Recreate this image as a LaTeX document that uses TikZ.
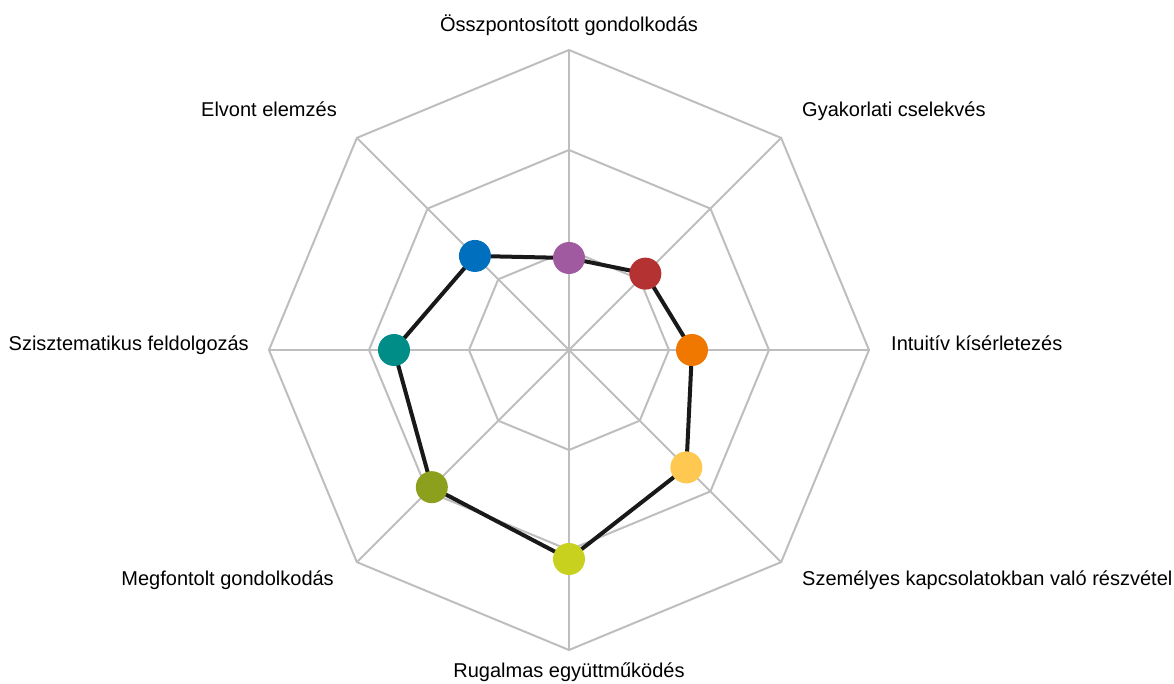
\documentclass[tikz,border=0pt]{standalone}
\usepackage{fontspec}
\setmainfont{Liberation Sans}
\definecolor{gridgray}{HTML}{BEBEBE}
\definecolor{dotpurple}{HTML}{A05AA0}
\definecolor{dotred}{HTML}{B43232}
\definecolor{dotorange}{HTML}{F07800}
\definecolor{dotyellow}{HTML}{FFC850}
\definecolor{dotlime}{HTML}{C8D21E}
\definecolor{dotolive}{HTML}{8CA01E}
\definecolor{dotteal}{HTML}{008C87}
\definecolor{dotblue}{HTML}{0070BE}
\tikzset{
  gridline/.style={line width=2bp, gridgray},
  dot/.style={circle, fill=#1, minimum size=32bp, inner sep=0pt},
  axislabel/.style={inner sep=0pt, font=\fontsize{20bp}{24bp}\selectfont}
}
\begin{document}
\begin{tikzpicture}[x=100bp, y=100bp]
\useasboundingbox (-5.69,-3.34) rectangle (6.05,3.50);

% grid
\foreach \r in {1,2,3}
  \draw[gridline] (90:\r) -- (45:\r) -- (0:\r) -- (-45:\r) -- (-90:\r)
    -- (-135:\r) -- (180:\r) -- (135:\r) -- cycle;
\foreach \a in {0,45,...,315}
  \draw[gridline] (0,0) -- (\a:3);

% axis labels
\node[axislabel, anchor=base] (lfocus) at (0,3.18) {Összpontosított gondolkodás};
\node[axislabel, anchor=base west] (lpractice) at (2.33,2.33) {Gyakorlati cselekvés};
\node[axislabel, anchor=base west] (lintuit) at (3.22,0) {Intuitív kísérletezés};
\node[axislabel, anchor=base west] (lpersonal) at (2.33,-2.35) {Személyes kapcsolatokban való részvétel};
\node[axislabel, anchor=base] (lflex) at (0,-3.27) {Rugalmas együttműködés};
\node[axislabel, anchor=base east] (lcareful) at (-2.35,-2.35) {Megfontolt gondolkodás};
\node[axislabel, anchor=base east] (lsystem) at (-3.2,0) {Szisztematikus feldolgozás};
\node[axislabel, anchor=base east] (labstract) at (-2.32,2.33) {Elvont elemzés};

% data points
\coordinate (cfocus) at (90:0.92);
\coordinate (cpractice) at (45:1.08);
\coordinate (cintuit) at (0:1.23);
\coordinate (cpersonal) at (-45:1.66);
\coordinate (cflex) at (-90:2.09);
\coordinate (ccareful) at (-135:1.94);
\coordinate (csystem) at (180:1.75);
\coordinate (cabstract) at (135:1.33);

\draw[line width=4bp, black!90, line join=round] (cfocus) -- (cpractice) -- (cintuit) -- (cpersonal)
  -- (cflex) -- (ccareful) -- (csystem) -- (cabstract) -- cycle;

\node[dot=dotpurple] (focus) at (cfocus) {};
\node[dot=dotred] (practice) at (cpractice) {};
\node[dot=dotorange] (intuit) at (cintuit) {};
\node[dot=dotyellow] (personal) at (cpersonal) {};
\node[dot=dotlime] (flex) at (cflex) {};
\node[dot=dotolive] (careful) at (ccareful) {};
\node[dot=dotteal] (system) at (csystem) {};
\node[dot=dotblue] (abstract) at (cabstract) {};
\end{tikzpicture}
\end{document}
